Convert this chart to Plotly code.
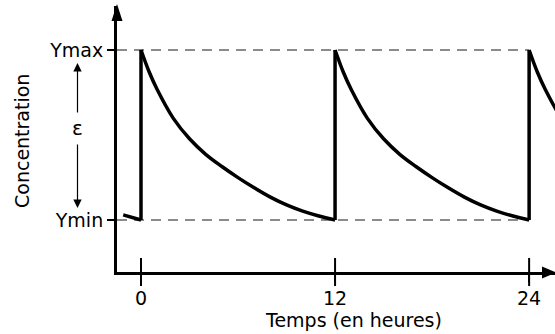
import plotly.graph_objects as go

# ---------------- data ----------------
hours_after_dose = [0, 0.5, 1, 2, 3, 4, 5, 6, 7, 8, 9, 10, 11, 12]
conc_profile = [10.0, 9.02, 8.22, 6.92, 6.0, 5.30, 4.75, 4.25, 3.79, 3.37, 3.02, 2.74, 2.52, 2.34]
dose_times = [0, 12, 24]
pre_dose_hours = [-1.1, 0]
pre_dose_conc = [2.57, 2.34]
y_min = 2.34
y_max = 10.0
x_tick_vals = [0, 12, 24]
x_tick_text = ["0", "12", "24"]
y_tick_text = ["Ymin", "Ymax"]
x_title = "Temps (en heures)"
y_title = "Concentration"
eps_label = "ε"

# ---------------- layout geometry ----------------
W, H = 555, 334
L, R, T, B = 117, 0, 6, 62
x_range = [-1.484, 25.60]
y_range = [0, 11.98]
FONT = "DejaVu Sans"
LINE_W = 3.5


def px(xp):
    return (xp - L) / (W - L - R)


def py(yp):
    return (H - B - yp) / (H - T - B)


fig = go.Figure()

# pre-dose tail
fig.add_trace(go.Scatter(x=pre_dose_hours, y=pre_dose_conc, mode="lines",
                         line=dict(color="black", width=LINE_W), hoverinfo="skip"))

for d in dose_times:
    # instantaneous rise at dose
    fig.add_trace(go.Scatter(x=[d, d], y=[y_min, y_max], mode="lines",
                             line=dict(color="black", width=LINE_W), hoverinfo="skip"))
    # decay
    fig.add_trace(go.Scatter(x=[d + h for h in hours_after_dose], y=conc_profile,
                             mode="lines", line=dict(color="black", width=LINE_W,
                                                     shape="spline", smoothing=1.0),
                             hoverinfo="skip"))

# crossing tick marks on the time axis
fig.add_trace(go.Scatter(x=x_tick_vals, y=[0] * len(x_tick_vals), mode="markers",
                         marker=dict(symbol="line-ns", size=20,
                                     line=dict(color="black", width=2)),
                         cliponaxis=False, hoverinfo="skip"))

shapes = []
for yv in (y_min, y_max):
    shapes.append(dict(type="line", xref="x", yref="y", x0=x_range[0], x1=dose_times[-1],
                       y0=yv, y1=yv, layer="below",
                       line=dict(color="#666666", width=1.5, dash="10px,7px")))

# axis arrowheads
shapes.append(dict(type="path", xref="paper", yref="paper",
                   path=f"M {px(117)},{py(4)} L {px(111.5)},{py(21)} L {px(122.5)},{py(21)} Z",
                   fillcolor="black", line=dict(width=0)))
shapes.append(dict(type="path", xref="paper", yref="paper",
                   path=f"M {px(556)},{py(272.5)} L {px(542)},{py(266.5)} L {px(542)},{py(278.5)} Z",
                   fillcolor="black", line=dict(width=0)))

annotations = [
    dict(text=x_title, xref="paper", yref="paper", x=px(353), y=py(320),
         showarrow=False, font=dict(size=19, family=FONT, color="black"),
         xanchor="center", yanchor="middle"),
    dict(text=y_title, xref="paper", yref="paper", x=px(22), y=py(141),
         showarrow=False, textangle=-90, font=dict(size=19, family=FONT, color="black"),
         xanchor="center", yanchor="middle"),
    dict(text=eps_label, xref="paper", yref="paper", x=px(77), y=py(128),
         showarrow=False, font=dict(size=20, family=FONT, color="black"),
         xanchor="center", yanchor="middle"),
    dict(text="", xref="paper", yref="paper", x=px(77.5), y=py(63), ax=0, ay=51,
         showarrow=True, arrowhead=2, arrowsize=1.4, arrowwidth=1.2, arrowcolor="black"),
    dict(text="", xref="paper", yref="paper", x=px(77.5), y=py(208), ax=0, ay=-65,
         showarrow=True, arrowhead=2, arrowsize=1.4, arrowwidth=1.2, arrowcolor="black"),
]

fig.update_layout(
    width=W, height=H,
    margin=dict(l=L, r=R, t=T, b=B, pad=0),
    paper_bgcolor="white", plot_bgcolor="white",
    showlegend=False,
    font=dict(family=FONT, size=19, color="black"),
    shapes=shapes,
    annotations=annotations,
    xaxis=dict(range=x_range, showgrid=False, zeroline=False,
               showline=True, linewidth=3, linecolor="black",
               tickvals=x_tick_vals, ticktext=x_tick_text,
               ticks="outside", ticklen=7, tickwidth=2, tickcolor="black",
               tickfont=dict(size=19, family=FONT, color="black"),
               fixedrange=True),
    yaxis=dict(range=y_range, showgrid=False, zeroline=False,
               showline=True, linewidth=3, linecolor="black",
               tickvals=[y_min, y_max], ticktext=y_tick_text,
               ticks="outside", ticklen=7, tickwidth=1.5, tickcolor="black",
               tickfont=dict(size=19, family=FONT, color="black"),
               fixedrange=True),
)

fig.write_html("out.html", config={"displayModeBar": False},
               post_script="document.body.style.margin='0';document.body.style.overflow='hidden';")
